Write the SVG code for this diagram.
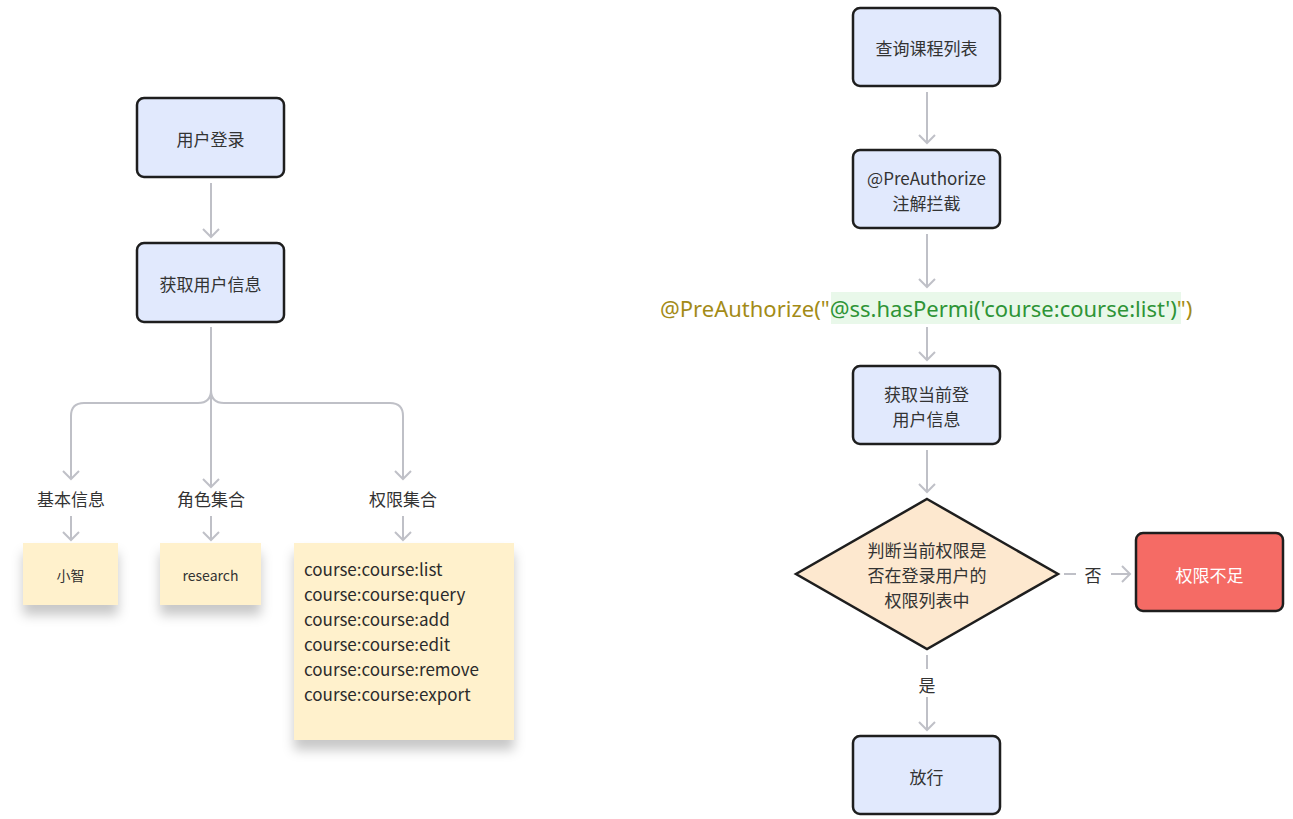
<svg xmlns="http://www.w3.org/2000/svg" width="1293" height="819" viewBox="0 0 1293 819">
<style>
.bg{fill:#ffffff}
.box{fill:#e1e9fd;stroke:#1e1e1e;stroke-width:2.5}
.red{fill:#f56b65;stroke:#1e1e1e;stroke-width:2.5}
.dia{fill:#fde8cf;stroke:#1e1e1e;stroke-width:2.5}
.sticky{fill:#fff1cc}
.t{font-family:"Noto Sans CJK SC","Noto Sans",sans-serif;font-size:17px;fill:#333;text-anchor:middle;dominant-baseline:central}
.s{font-size:14px}
.perm{font-family:"Noto Sans CJK SC","Noto Sans",sans-serif;font-size:17px;fill:#2b2b2b;dominant-baseline:central}
.w{fill:#ffffff}
.c{fill:none;stroke:#bfc0c7;stroke-width:2}
.code{font-family:"Noto Sans","Noto Sans CJK SC",sans-serif;font-size:22px;dominant-baseline:central}
</style>
<defs>
<marker id="arr" viewBox="-10 -10 20 20" refX="0" refY="0" markerWidth="20" markerHeight="20" markerUnits="userSpaceOnUse" orient="auto">
<path d="M-8,-8 L0,0 L-8,8" fill="none" stroke="#bfc0c7" stroke-width="2"/>
</marker>
<filter id="sh" x="-20%" y="-20%" width="140%" height="160%">
<feDropShadow dx="0" dy="10" stdDeviation="6" flood-color="#000" flood-opacity="0.22"/>
</filter>
</defs>
<rect class="bg" x="0" y="0" width="1293" height="819"/>

<g id="connectors">
<path class="c" d="M211,183 L211,237" marker-end="url(#arr)"/>
<path class="c" d="M211,327 L211,487" marker-end="url(#arr)"/>
<path class="c" d="M211,390 Q211,403 198,403 L84,403 Q71,403 71,416 L71,479" marker-end="url(#arr)"/>
<path class="c" d="M211,390 Q211,403 224,403 L390,403 Q403,403 403,416 L403,479" marker-end="url(#arr)"/>
<path class="c" d="M71,516 L71,540" marker-end="url(#arr)"/>
<path class="c" d="M211,516 L211,540" marker-end="url(#arr)"/>
<path class="c" d="M403,516 L403,540" marker-end="url(#arr)"/>
<path class="c" d="M927,92 L927,143" marker-end="url(#arr)"/>
<path class="c" d="M927,234 L927,287" marker-end="url(#arr)"/>
<path class="c" d="M927,327 L927,360" marker-end="url(#arr)"/>
<path class="c" d="M927,450 L927,492" marker-end="url(#arr)"/>
<path class="c" d="M1064,574 L1076,574"/>
<path class="c" d="M1111,574 L1130,574" marker-end="url(#arr)"/>
<text class="t" x="1093" y="574">否</text>
<path class="c" d="M927,655 L927,669"/>
<path class="c" d="M927,697 L927,730" marker-end="url(#arr)"/>
<text class="t" x="927" y="684">是</text>
</g>

<g id="n-login"><rect class="box" x="137" y="98" width="147" height="79" rx="7"/><text class="t" x="210.5" y="138">用户登录</text></g>
<g id="n-getuser"><rect class="box" x="137" y="243" width="147" height="79" rx="7"/><text class="t" x="210.5" y="283">获取用户信息</text></g>

<g id="l-basic"><text class="t" x="71" y="498">基本信息</text></g>
<g id="l-role"><text class="t" x="211" y="498">角色集合</text></g>
<g id="l-perm"><text class="t" x="403" y="498">权限集合</text></g>

<g id="s-name"><rect class="sticky" x="23" y="543" width="95" height="62" filter="url(#sh)"/><text class="t s" x="70.5" y="575">小智</text></g>
<g id="s-role"><rect class="sticky" x="160" y="543" width="101" height="62" filter="url(#sh)"/><text class="t s" x="210.5" y="575">research</text></g>
<g id="s-perm"><rect class="sticky" x="294" y="543" width="220" height="197" filter="url(#sh)"/>
<text class="perm" x="304" y="568">course:course:list</text>
<text class="perm" x="304" y="593">course:course:query</text>
<text class="perm" x="304" y="618">course:course:add</text>
<text class="perm" x="304" y="643">course:course:edit</text>
<text class="perm" x="304" y="668">course:course:remove</text>
<text class="perm" x="304" y="693">course:course:export</text>
</g>

<g id="n-query"><rect class="box" x="853" y="8" width="147" height="78" rx="7"/><text class="t" x="926.5" y="47">查询课程列表</text></g>
<g id="n-pre"><rect class="box" x="853" y="150" width="147" height="78" rx="7"/><text class="t" x="926.5" y="177">@PreAuthorize</text><text class="t" x="926.5" y="202">注解拦截</text></g>

<g id="code">
<rect x="831" y="292" width="350" height="32" fill="#e9f8ea"/>
<text class="code" x="660" y="308"><tspan fill="#a38b17">@PreAuthorize("</tspan><tspan fill="#2e9436">@ss.hasPermi('course:course:list')</tspan><tspan fill="#a38b17">")</tspan></text>
</g>

<g id="n-cur"><rect class="box" x="853" y="366" width="147" height="78" rx="7"/><text class="t" x="926.5" y="393">获取当前登</text><text class="t" x="926.5" y="418">用户信息</text></g>

<g id="n-judge"><polygon class="dia" points="927,499 1058,574 927,649 796,574"/>
<text class="t" x="927" y="549">判断当前权限是</text>
<text class="t" x="927" y="574">否在登录用户的</text>
<text class="t" x="927" y="599">权限列表中</text></g>

<g id="n-deny"><rect class="red" x="1136" y="533" width="147" height="78" rx="7"/><text class="t w" x="1209.5" y="574">权限不足</text></g>
<g id="n-pass"><rect class="box" x="853" y="736" width="147" height="78" rx="7"/><text class="t" x="926.5" y="776">放行</text></g>
</svg>
